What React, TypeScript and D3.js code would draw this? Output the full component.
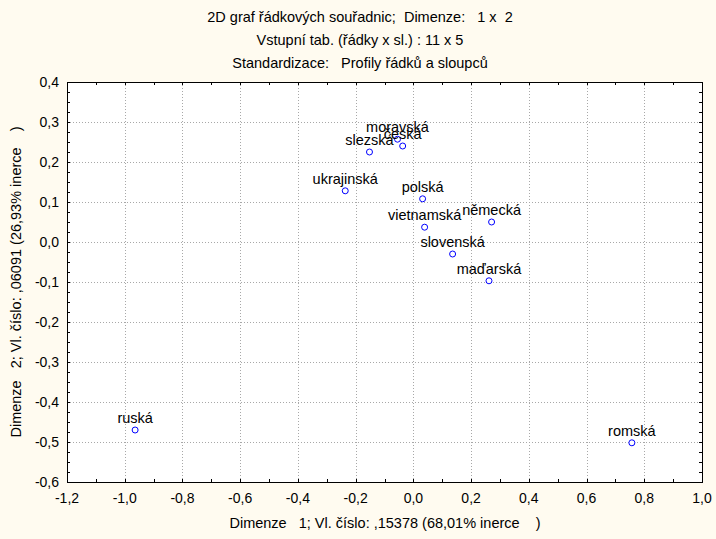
import React from 'react';
import * as d3 from 'd3';

// Row coordinates
const names = ['ruská', 'romská', 'moravská', 'česká', 'slezská', 'ukrajinská', 'polská', 'vietnamská', 'německá', 'slovenská', 'maďarská'];
const dim1 = [-0.964, 0.757, -0.055, -0.037, -0.152, -0.236, 0.032, 0.039, 0.271, 0.136, 0.262];
const dim2 = [-0.47, -0.502, 0.257, 0.24, 0.225, 0.128, 0.108, 0.037, 0.05, -0.03, -0.097];

const xTicks = [-1.2, -1.0, -0.8, -0.6, -0.4, -0.2, 0.0, 0.2, 0.4, 0.6, 0.8, 1.0];
const yTicks = [0.4, 0.3, 0.2, 0.1, 0.0, -0.1, -0.2, -0.3, -0.4, -0.5, -0.6];

const titles = [
  '2D graf řádkových souřadnic;  Dimenze:   1 x  2',
  'Vstupní tab. (řádky x sl.) : 11 x 5',
  'Standardizace:   Profily řádků a sloupců',
];
const xTitle = 'Dimenze   1; Vl. číslo: ,15378 (68,01% inerce    )';
const yTitle = 'Dimenze   2; Vl. číslo: ,06091 (26,93% inerce    )';

const W = 716;
const H = 539;
const m = { left: 67, right: 702, top: 82, bottom: 482 };
const font = '"Liberation Sans", Arial, sans-serif';
const fs = 14.5;

const fmt = (v: number) => d3.format('.1f')(v).replace('.', ',').replace('−', '-');

const App: React.FC = () => {
  const x = d3.scaleLinear().domain([-1.2, 1.0]).range([m.left, m.right]);
  const y = d3.scaleLinear().domain([-0.6, 0.4]).range([m.bottom, m.top]);

  const xMinor = d3.range(-1.2, 1.0001, 0.1);
  const yMinor = d3.range(-0.6, 0.4001, 0.025);
  const tl = 3;

  return (
    <svg width={W} height={H} style={{ position: 'absolute', left: 0, top: 0 }} fontFamily={font}>
      <rect width={W} height={H} fill="#fffbf0" />
      {titles.map((t, i) => (
        <text key={t} x={360} y={22 + i * 23} textAnchor="middle" fontSize={fs} style={{ whiteSpace: 'pre' }}>
          {t}
        </text>
      ))}
      <rect x={m.left} y={m.top} width={m.right - m.left} height={m.bottom - m.top} fill="#fff" />
      {/* grid */}
      <g stroke="#a8a8a8" strokeDasharray="1,2">
        {xTicks.slice(1, -1).map((t) => (
          <line key={t} x1={Math.round(x(t)) + 0.5} x2={Math.round(x(t)) + 0.5} y1={m.top} y2={m.bottom} />
        ))}
        {yTicks.slice(1, -1).map((t) => (
          <line key={t} y1={Math.round(y(t)) + 0.5} y2={Math.round(y(t)) + 0.5} x1={m.left} x2={m.right} />
        ))}
      </g>
      {/* ticks, inward on all sides */}
      <g stroke="#000">
        {xMinor.map((t) => {
          const px = Math.round(x(t)) + 0.5;
          return (
            <g key={t}>
              <line x1={px} x2={px} y1={m.bottom} y2={m.bottom - tl} />
              <line x1={px} x2={px} y1={m.top} y2={m.top + tl} />
            </g>
          );
        })}
        {yMinor.map((t) => {
          const py = Math.round(y(t)) + 0.5;
          return (
            <g key={t}>
              <line y1={py} y2={py} x1={m.left} x2={m.left + tl} />
              <line y1={py} y2={py} x1={m.right} x2={m.right - tl} />
            </g>
          );
        })}
      </g>
      <rect x={m.left + 0.5} y={m.top + 0.5} width={m.right - m.left} height={m.bottom - m.top} fill="none" stroke="#000" />
      {/* tick labels */}
      <g fontSize={14}>
        {xTicks.map((t) => (
          <text key={t} x={x(t)} y={503} textAnchor="middle">
            {fmt(t)}
          </text>
        ))}
        {yTicks.map((t) => (
          <text key={t} x={59} y={y(t) + 5} textAnchor="end">
            {fmt(t)}
          </text>
        ))}
      </g>
      <text x={385} y={528} textAnchor="middle" fontSize={fs} style={{ whiteSpace: 'pre' }}>
        {xTitle}
      </text>
      <text transform={`translate(21,${(m.top + m.bottom) / 2}) rotate(-90)`} textAnchor="middle" fontSize={fs} style={{ whiteSpace: 'pre' }}>
        {yTitle}
      </text>
      {/* points */}
      {names.map((n, i) => (
        <g key={n}>
          <circle cx={x(dim1[i])} cy={y(dim2[i])} r={3} fill="#fff" stroke="#0000ff" />
          <text x={x(dim1[i])} y={y(dim2[i]) - 7} textAnchor="middle" fontSize={fs}>
            {n}
          </text>
        </g>
      ))}
    </svg>
  );
};

export default App;
